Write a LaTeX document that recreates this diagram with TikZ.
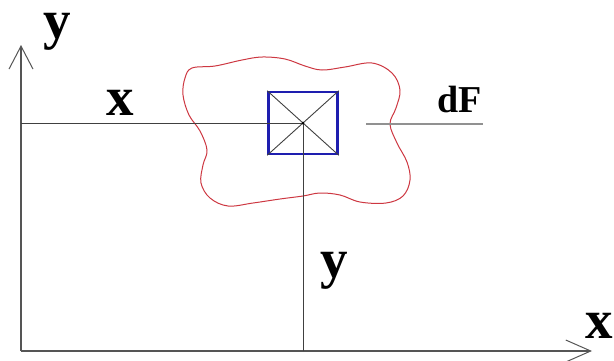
\documentclass[tikz,border=0pt]{standalone}
\usepackage{fontspec}
\setmainfont{Liberation Serif}
\usetikzlibrary{arrows.meta}
\definecolor{axisgray}{RGB}{85,85,85}
\definecolor{lightgray2}{RGB}{145,145,145}
\definecolor{blobred}{RGB}{205,55,65}
\definecolor{sqblue}{RGB}{30,30,175}
\tikzset{
  biglabel/.style={anchor=base, inner sep=0pt, font=\fontsize{55}{60}\selectfont\bfseries},
  smalllabel/.style={anchor=base west, inner sep=0pt, font=\fontsize{38}{42}\selectfont\bfseries},
  axisline/.style={draw=axisgray, line width=1.6pt},
  thinline/.style={draw=black!75, line width=0.9pt},
}
\begin{document}
\begin{tikzpicture}[x=1pt,y=-1pt]
\useasboundingbox (0,0) rectangle (614,360);
% coordinates
\coordinate (O) at (21,351);
\coordinate (Ytip) at (21,45);
\coordinate (Xtip) at (592,351);
\coordinate (C) at (303,123);
\coordinate (L) at (21,123);
\coordinate (F) at (303,351);
\coordinate (dFa) at (366,124);
\coordinate (dFb) at (483,124);
% axes
\draw[axisline, -{Straight Barb[length=23pt,width=24pt,line width=1pt]}] (O) -- (Ytip);
\draw[axisline, -{Straight Barb[length=25pt,width=22pt,line width=1pt]}] (O) -- (Xtip);
% red blob
\draw[blobred, line width=1pt] plot[smooth cycle, tension=0.6] coordinates {
(192,68) (215,66) (242,60) (262,57) (285,59) (305,66) (322,70) (345,67) (372,63)
(392,73) (400,90) (396,108) (390,124) (397,143) (407,162) (410,180) (403,196)
(386,203) (360,202) (340,195) (320,193) (303,196) (280,199) (253,203) (228,206)
(210,198) (201,183) (203,165) (207,150) (200,131) (189,115) (183,95) (185,78)};
% square
\node[draw=sqblue, line width=2.5pt, minimum width=69pt, minimum height=62pt, inner sep=0pt] (sq) at (C) {};
\draw[thinline] (sq.north west) -- (sq.south east);
\draw[thinline] (sq.north east) -- (sq.south west);
% guide lines
\draw[thinline] (L) -- (C);
\draw[thinline] (C) -- (F);
\fill (C) circle (1.5pt);
\draw[draw=lightgray2, line width=1.5pt] (dFa) -- (dFb);
% labels
\node[biglabel] (ly) at (57,38) {y};
\node[biglabel] (lx) at (120,115) {x};
\node[biglabel] (ly2) at (334,277) {y};
\node[biglabel] (lx2) at (599,338) {x};
\node[smalllabel] (ldF) at (437,112) {dF};
\end{tikzpicture}
\end{document}
